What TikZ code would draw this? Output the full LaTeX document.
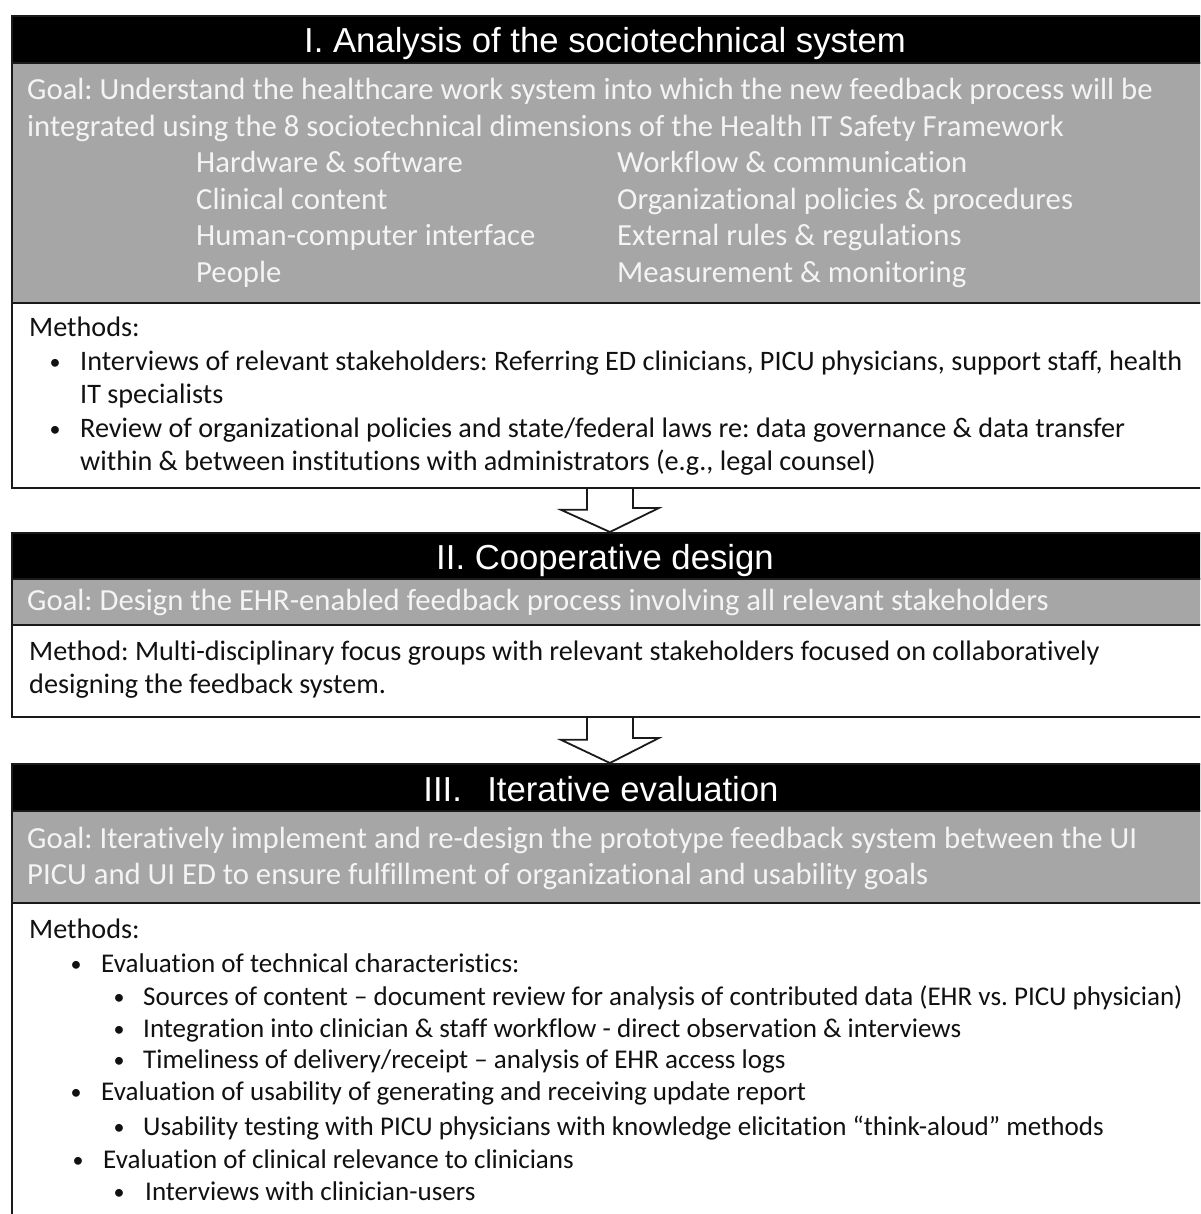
\documentclass[tikz,border=0pt]{standalone}
\usepackage{fontspec}
\setmainfont{Carlito}[Ligatures={NoCommon,NoContextual,NoRare}]
\newfontfamily\hdrfont{Liberation Sans}
\frenchspacing
\definecolor{boxgray}{HTML}{A6A6A6}
\definecolor{goaltext}{HTML}{F4F4F4}
\definecolor{edge}{HTML}{1A1A1A}
\definecolor{bodytext}{HTML}{111111}
\begin{document}
\begin{tikzpicture}[x=1pt,y=-1pt,
  panel/.style={draw=edge, line width=1.8pt, anchor=north west, inner sep=0pt, minimum width=1196pt},
  hdrbar/.style={panel, fill=black},
  goalbar/.style={panel, fill=boxgray},
  methbar/.style={panel, fill=white},
  hdrtext/.style={anchor=base, inner sep=0pt, text=white, font=\hdrfont\fontsize{34.7}{40}\selectfont},
  goaltxt/.style={anchor=base west, inner sep=0pt, text=goaltext, font=\fontsize{30.7}{36}\selectfont},
  methtxt/.style={anchor=base west, inner sep=0pt, text=bodytext, font=\fontsize{28.2}{32}\selectfont},
  methtxtc/.style={methtxt, font=\fontsize{27.05}{32}\selectfont},
  bul/.style={anchor=base, inner sep=0pt, text=bodytext, font=\fontsize{22}{26}\selectfont},
  blockarrow/.style={draw=edge, line width=1.8pt, line join=miter}
]
\useasboundingbox (0,0) rectangle (1200,1214);
\clip (0,0) rectangle (1200,1214);
\fill[white] (0,0) rectangle (1200,1214);

% ---------- Box I ----------
\node[hdrbar, minimum height=47pt] (h1) at (11,15) {};
\node[goalbar, minimum height=240pt] (g1) at (11,62) {};
\node[methbar, minimum height=185pt] (m1) at (11,302) {};
\node[hdrtext] (t1) at (605,53) {I. Analysis of the sociotechnical system};
\node[goaltxt] (g1a) at (27,100) {Goal: Understand the healthcare work system into which the new feedback process will be};
\node[goaltxt] (g1b) at (27,137) {integrated using the 8 sociotechnical dimensions of the Health IT Safety Framework};
\node[goaltxt] (d1) at (196,173) {Hardware \& software};
\node[goaltxt] (d2) at (196,210) {Clinical content};
\node[goaltxt] (d3) at (196,246) {Human-computer interface};
\node[goaltxt] (d4) at (196,283) {People};
\node[goaltxt] (d5) at (617,173) {Workflow \& communication};
\node[goaltxt] (d6) at (617,210) {Organizational policies \& procedures};
\node[goaltxt] (d7) at (617,246) {External rules \& regulations};
\node[goaltxt] (d8) at (617,283) {Measurement \& monitoring};
\node[methtxt] (m1a) at (29,336) {Methods:};
\node[bul] (b1a) at (55,369) {•};
\node[methtxt] (m1b) at (80,370) {Interviews of relevant stakeholders: Referring ED clinicians, PICU physicians, support staff, health};
\node[methtxt] (m1c) at (80,403) {IT specialists};
\node[bul] (b1b) at (55,436) {•};
\node[methtxt] (m1d) at (80,437) {Review of organizational policies and state/federal laws re: data governance \& data transfer};
\node[methtxt] (m1e) at (80,470) {within \& between institutions with administrators (e.g., legal counsel)};

% ---------- Box II ----------
\node[hdrbar, minimum height=46pt] (h2) at (11,532) {};
\node[goalbar, minimum height=46pt] (g2) at (11,578) {};
\node[methbar, minimum height=92pt] (m2) at (11,624) {};
\node[hdrtext] (t2) at (605,569) {II. Cooperative design};
\node[goaltxt] (g2a) at (27,610) {Goal: Design the EHR-enabled feedback process involving all relevant stakeholders};
\node[methtxt] (m2a) at (29,660) {Method: Multi-disciplinary focus groups with relevant stakeholders focused on collaboratively};
\node[methtxt] (m2b) at (29,693) {designing the feedback system.};

% ---------- Box III ----------
\node[hdrbar, minimum height=47pt] (h3) at (11,763) {};
\node[goalbar, minimum height=92pt] (g3) at (11,810) {};
\node[methbar, minimum height=340pt] (m3) at (11,902) {};
\node[hdrtext] (t3) at (601,801) {III.\ \ \kern6pt Iterative evaluation};
\node[goaltxt] (g3a) at (27,848) {Goal: Iteratively implement and re-design the prototype feedback system between the UI};
\node[goaltxt] (g3b) at (27,884) {PICU and UI ED to ensure fulfillment of organizational and usability goals};
\node[methtxt] (m3a) at (29,938) {Methods:};
\node[bul] (b3a) at (76,971) {•};
\node[methtxtc] (m3b) at (101,972) {Evaluation of technical characteristics:};
\node[bul] (b3b) at (119,1004) {•};
\node[methtxtc] (m3c) at (143,1005) {Sources of content – document review for analysis of contributed data (EHR vs. PICU physician)};
\node[bul] (b3c) at (119,1036) {•};
\node[methtxtc] (m3d) at (143,1037) {Integration into clinician \& staff workflow - direct observation \& interviews};
\node[bul] (b3d) at (119,1067) {•};
\node[methtxtc] (m3e) at (143,1068) {Timeliness of delivery/receipt – analysis of EHR access logs};
\node[bul] (b3e) at (76,1099) {•};
\node[methtxtc] (m3f) at (101,1100) {Evaluation of usability of generating and receiving update report};
\node[bul] (b3f) at (119,1134) {•};
\node[methtxtc] (m3g) at (143,1135) {Usability testing with PICU physicians with knowledge elicitation “think-aloud” methods};
\node[bul] (b3g) at (78,1167) {•};
\node[methtxtc] (m3h) at (103,1168) {Evaluation of clinical relevance to clinicians};
\node[bul] (b3h) at (119,1199) {•};
\node[methtxtc] (m3i) at (145,1200) {Interviews with clinician-users};

% ---------- Block arrows ----------
\draw[blockarrow] ([xshift=-23pt]m1.south) -- ++(0,21) -- ++(-26,0) -- (h2.north)
  -- ++(49,-24) -- ++(-26,0) -- ++(0,-21);
\draw[blockarrow] ([xshift=-23pt]m2.south) -- ++(0,22) -- ++(-26,0) -- (h3.north)
  -- ++(49,-25) -- ++(-26,0) -- ++(0,-22);
\end{tikzpicture}
\end{document}
